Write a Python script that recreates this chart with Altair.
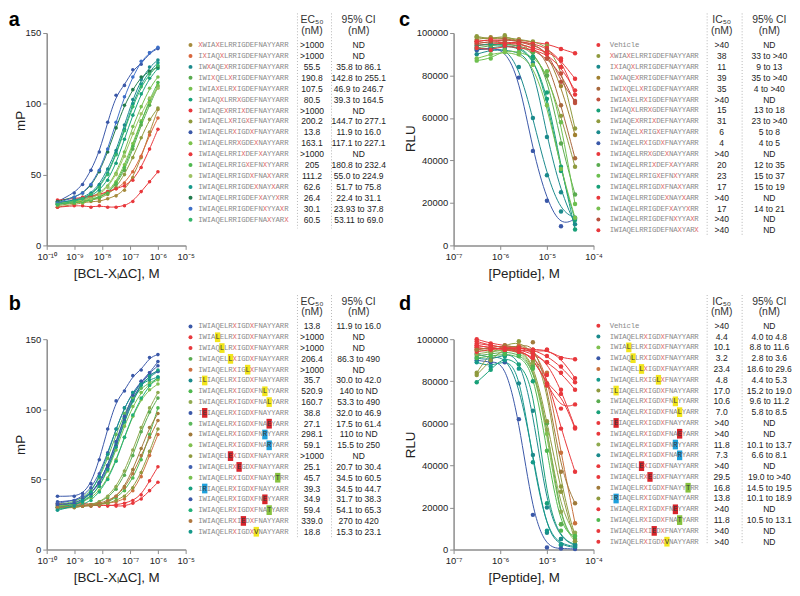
import altair as alt
import pandas as pd

FONT = "Liberation Sans"
MONO = "Liberation Mono"

# ---------------- concentrations ----------------
CONC_AB = [2.44e-10, 9.77e-10, 1.95e-9, 3.91e-9, 7.81e-9, 1.56e-8, 3.13e-8,
           6.25e-8, 1.25e-7, 2.5e-7, 5e-7, 1e-6]
CONC_CD = [3.13e-7, 6.25e-7, 1.25e-6, 2.5e-6, 5e-6, 1e-5, 2e-5, 4e-5]

# ---------------- panel a ----------------
A_SEQS = ["XWIAXELRRIGDEFNAYYARR", "IXIAQXLRRIGDEFNAYYARR", "IWXAQEXRRIGDEFNAYYARR",
          "IWIXQELXRIGDEFNAYYARR", "IWIAXELRXIGDEFNAYYARR", "IWIAQXLRRXGDEFNAYYARR",
          "IWIAQEXRRIXDEFNAYYARR", "IWIAQELXRIGXEFNAYYARR", "IWIAQELRXIGDXFNAYYARR",
          "IWIAQELRRXGDEXNAYYARR", "IWIAQELRRIXDEFXAYYARR", "IWIAQELRRIGXEFNXYYARR",
          "IWIAQELRRIGDXFNAXYARR", "IWIAQELRRIGDEXNAYXARR", "IWIAQELRRIGDEFXAYYXRR",
          "IWIAQELRRIGDEFNXYYAXR", "IWIAQELRRIGDEFNAXYARX"]
A_EC50 = [">1000", ">1000", "55.5", "190.8", "107.5", "80.5", ">1000", "200.2", "13.8",
          "163.1", ">1000", "205", "111.2", "62.6", "26.4", "30.1", "60.5"]
A_CI = ["ND", "ND", "35.8 to 86.1", "142.8 to 255.1", "46.9 to 246.7", "39.3 to 164.5", "ND",
        "144.7 to 277.1", "11.9 to 16.0", "117.1 to 227.1", "ND", "180.8 to  232.4",
        "55.0 to 224.9", "51.7 to 75.8", "22.4 to 31.1", "23.93 to 37.8", "53.11 to  69.0"]
A_COLORS = ["#a68b3c", "#d9673c", "#1b8a8c", "#5aab4f", "#77c04f", "#16a07a", "#e8383c",
            "#8f9a3e", "#3a58a8", "#7cc24c", "#e8383c", "#4fb84f", "#9dc262", "#15998a",
            "#207a4c", "#3d6fc8", "#35b56a"]
A_MP = [
    [27, 29, 30, 31, 31, 33, 35, 39, 48, 62, 80, 96],
    [30, 31, 33, 34, 36, 37, 40, 44, 52, 63, 78, 90],
    [30, 32, 34, 37, 43, 54, 67, 85, 103, 117, 126, 131],
    [29, 31, 31, 33, 34, 37, 43, 53, 68, 85, 99, 112],
    [31, 30, 32, 34, 37, 42, 51, 66, 84, 98, 111, 119],
    [30, 31, 33, 35, 39, 46, 58, 75, 92, 107, 118, 125],
    [27, 28, 28, 27, 28, 27, 27, 28, 31, 38, 45, 52],
    [28, 30, 31, 32, 33, 36, 41, 50, 62, 76, 89, 97],
    [31, 37, 43, 53, 66, 87, 106, 113, 124, 128, 136, 139],
    [30, 31, 30, 32, 34, 38, 45, 57, 72, 88, 101, 113],
    [32, 33, 34, 35, 36, 38, 40, 42, 46, 55, 68, 82],
    [29, 30, 31, 32, 34, 37, 44, 55, 70, 87, 103, 115],
    [30, 31, 32, 33, 36, 41, 50, 63, 79, 93, 104, 111],
    [30, 32, 33, 36, 42, 51, 65, 82, 100, 114, 123, 129],
    [31, 34, 37, 42, 52, 66, 83, 99, 110, 119, 123, 126],
    [30, 34, 37, 43, 53, 68, 87, 105, 119, 130, 136, 140],
    [29, 31, 33, 36, 41, 50, 64, 81, 98, 112, 121, 127],
]

# ---------------- panel b ----------------
B_SEQS = ["IWIAQELRXIGDXFNAYYARR", "IWIALELRXIGDXFNAYYARR", "IWIAQLLRXIGDXFNAYYARR",
          "IWIAQELLXIGDXFNAYYARR", "IWIAQELRXIGLXFNAYYARR", "ILIAQELRXIGDXFNAYYARR",
          "IWIAQELRXIGDXFNLYYARR", "IWIAQELRXIGDXFNALYARR", "IEIAQELRXIGDXFNAYYARR",
          "IWIAQELRXIGDXFNAEYARR", "IWIAQELRXIGDXFNRYYARR", "IWIAQELRXIGDXFNARYARR",
          "IWIAQELEXIGDXFNAYYARR", "IWIAQELRXEGDXFNAYYARR", "IWIAQELRXIGDXFNAYYTRR",
          "IRIAQELRXIGDXFNAYYARR", "IWIAQELRXIGDXFNEYYARR", "IWIAQELRXIGDXFNATYARR",
          "IWIAQELRXIEDXFNAYYARR", "IWIAQELRXIGDXVNAYYARR"]
B_HL = [None, (4, "y"), (5, "y"), (7, "y"), (11, "y"), (1, "y"), (15, "y"), (16, "y"),
        (1, "r"), (16, "r"), (15, "b"), (16, "b"), (7, "r"), (9, "r"), (18, "g"), (1, "b"),
        (15, "r"), (16, "g"), (10, "r"), (13, "y")]
B_EC50 = ["13.8", ">1000", ">1000", "206.4", ">1000", "35.7", "520.9", "160.7", "38.8", "27.1",
          "298.1", "59.1", ">1000", "25.1", "45.7", "39.3", "34.9", "59.4", "339.0", "18.8"]
B_CI = ["11.9 to 16.0", "ND", "ND", "86.3 to 490", "ND", "30.0 to 42.0", "140 to ND",
        "53.3 to 490", "32.0 to 46.9", "17.5 to 61.4", "110 to ND", "15.5 to 250", "ND",
        "20.7 to 30.4", "34.5 to 60.5", "34.5 to 44.7", "31.7 to 38.3", "54.1 to 65.3",
        "270 to 420", "15.3 to 23.1"]
B_COLORS = ["#3a58a8", "#e8383c", "#e8383c", "#5aab4f", "#cc7040", "#1b8a8c", "#4fb84f",
            "#8faa50", "#3a58a8", "#5cb85c", "#a07a3a", "#80c050", "#8f9a3e", "#4060b0",
            "#78c050", "#18a080", "#3a58a8", "#20b078", "#b07840", "#15998a"]
B_MP = [
    [38, 38, 40, 47, 64, 86, 106, 113, 124, 128, 137, 139],
    [31, 31, 32, 31, 32, 31, 32, 33, 35, 39, 49, 59],
    [32, 32, 33, 32, 31, 32, 31, 31, 33, 36, 42, 48],
    [30, 31, 31, 32, 34, 37, 43, 53, 67, 84, 98, 108],
    [33, 32, 33, 32, 33, 33, 34, 36, 42, 52, 67, 82],
    [31, 33, 35, 40, 48, 60, 76, 94, 108, 118, 123, 127],
    [30, 30, 31, 32, 32, 34, 37, 42, 51, 64, 82, 101],
    [29, 30, 31, 32, 34, 38, 45, 56, 71, 87, 101, 112],
    [34, 35, 37, 40, 47, 58, 74, 92, 107, 118, 126, 131],
    [32, 34, 37, 42, 51, 65, 82, 97, 108, 115, 119, 122],
    [30, 30, 31, 31, 32, 34, 38, 45, 57, 72, 87, 97],
    [31, 32, 34, 37, 42, 51, 64, 80, 95, 107, 114, 118],
    [30, 31, 31, 32, 32, 33, 35, 38, 44, 55, 70, 86],
    [33, 35, 38, 44, 54, 69, 86, 101, 112, 120, 125, 127],
    [31, 32, 35, 38, 45, 56, 71, 88, 102, 112, 118, 121],
    [30, 32, 34, 38, 45, 57, 73, 91, 106, 117, 124, 128],
    [32, 33, 36, 40, 48, 60, 77, 95, 110, 120, 126, 134],
    [29, 31, 32, 35, 41, 50, 63, 80, 96, 108, 117, 123],
    [30, 31, 31, 32, 33, 35, 38, 44, 54, 67, 80, 92],
    [28, 31, 35, 41, 52, 68, 86, 101, 112, 118, 121, 123],
]

# ---------------- panel c ----------------
C_SEQS = ["Vehicle"] + A_SEQS
C_IC50 = [">40", "38", "11", "39", "35", ">40", "15", "31", "6", "4", ">40", "20", "23", "17",
          ">40", "17", ">40", ">40"]
C_CI = ["ND", "33 to >40", "9 to 13", "35 to >40", "4 to >40", "ND", "13 to 18", "23 to >40",
        "5 to 8", "4 to 5", "ND", "12 to 35", "15 to 37", "15 to 19", "ND", "14 to 21", "ND", "ND"]
C_COLORS = ["#e8383c", "#8f9a3e", "#1b8a8c", "#a08030", "#a8683c", "#c0503c", "#18a078",
            "#8f9a3e", "#1b8a8c", "#3a58a8", "#e8383c", "#5aab4f", "#6cbf4f", "#18a078",
            "#e8383c", "#78c050", "#b8503c", "#e8383c"]
C_RLU = [
    [96000, 97000, 96500, 97000, 95500, 95000, 92500, 90500],
    [98500, 97000, 98000, 97000, 96000, 94000, 84000, 55000],
    [90000, 92000, 92000, 91000, 86000, 51000, 25000, 10000],
    [97000, 98000, 97500, 96000, 95000, 91000, 75000, 52000],
    [96000, 95000, 96000, 95000, 93000, 88000, 66000, 41000],
    [95000, 94000, 95000, 94000, 92000, 88000, 81000, 67000],
    [92000, 93000, 94000, 93000, 88000, 72000, 37000, 7500],
    [98000, 97000, 99000, 96000, 91000, 80000, 61000, 37000],
    [93000, 92000, 93000, 84000, 60000, 33000, 16000, 13000],
    [92000, 93000, 92000, 79000, 44500, 21000, 9000, 12500],
    [94000, 95000, 95000, 96000, 95000, 93000, 87000, 78500],
    [93000, 94000, 95000, 94000, 91000, 80000, 48000, 24000],
    [87000, 88000, 92000, 91000, 89000, 82000, 58000, 19500],
    [94000, 95000, 94000, 93500, 89000, 69000, 35000, 12000],
    [93000, 92000, 94000, 93000, 92000, 90000, 84000, 73000],
    [88000, 90000, 91000, 90000, 85000, 66000, 36000, 13000],
    [95000, 96000, 97000, 96000, 94000, 92000, 77000, 68000],
    [96000, 97000, 95000, 95000, 93000, 91000, 88000, 71000],
]

# ---------------- panel d ----------------
D_SEQS = ["Vehicle"] + B_SEQS
D_HL = [None] + B_HL
D_IC50 = [">40", "4.4", "10.1", "3.2", "23.4", "4.8", "17.0", "10.6", "7.0", ">40", ">40",
          "11.8", "7.3", ">40", "29.5", "16.8", "13.8", ">40", "11.8", ">40", ">40"]
D_CI = ["ND", "4.0 to 4.8", "8.8 to 11.6", "2.8 to 3.6", "18.6 to 29.6", "4.4 to 5.3",
        "15.2 to 19.0", "9.6 to 11.2", "5.8 to 8.5", "ND", "ND", "10.1 to 13.7", "6.6 to 8.1",
        "ND", "19.0 to >40", "14.5 to 19.5", "10.1 to 18.9", "ND", "10.5 to 13.1", "ND", "ND"]
D_COLORS = ["#e8383c", "#1b8a8c", "#80c050", "#3a58a8", "#c8703c", "#15998a", "#8f9a3e",
            "#5aab4f", "#18a078", "#e8383c", "#e8383c", "#8faa50", "#1b8a8c", "#e8383c",
            "#e8383c", "#a07a3a", "#8f9a3e", "#e8383c", "#4fb84f", "#e8383c", "#e8383c"]
D_RLU = [
    [98000, 97000, 96000, 96000, 95000, 95000, 91000, 90500],
    [93000, 91000, 92000, 79000, 45000, 8000, 2000, 1000],
    [95000, 94000, 95000, 94000, 88000, 55000, 12000, 4000],
    [90000, 89000, 89000, 62000, 16500, 1000, 500, 300],
    [96000, 95000, 96000, 97000, 95000, 84000, 46000, 12500],
    [89000, 87000, 90000, 86000, 41500, 9000, 2500, 1500],
    [84000, 94000, 97000, 99000, 94000, 78000, 30000, 6500],
    [92000, 93000, 94000, 93000, 87000, 60000, 12000, 5000],
    [79500, 85500, 92000, 88000, 80000, 22000, 5000, 2500],
    [96000, 95000, 96000, 95000, 93000, 89000, 84000, 76000],
    [100000, 98000, 97000, 96000, 94000, 89000, 76000, 58000],
    [93000, 94000, 95000, 95000, 89000, 57000, 18000, 8000],
    [91000, 90000, 93000, 92000, 66000, 20000, 5000, 2000],
    [95000, 96000, 95000, 95000, 94000, 95000, 91000, 81500],
    [94000, 95000, 96000, 94000, 92000, 83000, 57500, 37000],
    [95000, 96000, 97000, 96000, 98500, 79000, 37000, 22000],
    [83000, 90000, 96000, 95000, 90000, 61000, 27500, 4000],
    [97000, 96000, 95000, 96000, 95000, 92000, 87000, 79500],
    [91000, 92000, 93000, 92000, 86000, 47000, 9000, 6500],
    [99000, 97000, 96000, 95000, 91000, 79000, 67000, 69000],
    [97000, 96000, 95000, 94000, 92000, 78000, 74000, 57500],
]

HL_COLORS = {"y": "#f2e51c", "r": "#d8232a", "b": "#1ea0dc", "g": "#86c23e"}
SEQ_GRAY = "#8a8a8a"
SEQ_RED = "#e06a6a"

LBL = ("datum.value < 3e-10 ? '10\u207b\u00b9\u2070' : datum.value < 3e-9 ? '10\u207b\u2079' : "
       "datum.value < 3e-8 ? '10\u207b\u2078' : datum.value < 3e-7 ? '10\u207b\u2077' : "
       "datum.value < 3e-6 ? '10\u207b\u2076' : datum.value < 3e-5 ? '10\u207b\u2075' : '10\u207b\u2074'")

AXIS = dict(domainColor="#8c8c8c", domainWidth=1.5, tickColor="#8c8c8c", tickWidth=1,
            tickSize=4, labelFont=FONT, labelFontSize=9.5, labelColor="#222",
            titleFont=FONT, titleFontSize=13.5, titleFontWeight="normal", titleColor="#222",
            grid=False, labelPadding=2, labelOverlap=False)


def plot_panel(conc, series, colors, xdom, xticks, ydom, yticks, yfmt, w, h,
               xtitle, ytitle, ytx, yty, letter, ldx, loff, ldy, psize):
    recs = []
    for s, (vals, col) in enumerate(zip(series, colors)):
        for c, v in zip(conc, vals):
            recs.append({"s": s, "c": c, "v": v, "col": col})
    df = pd.DataFrame(recs)
    xax = alt.Axis(values=xticks, labelExpr=LBL, title=xtitle, labelFlush=False,
                   titlePadding=6, **AXIS)
    yax = alt.Axis(values=yticks, format=yfmt, title=ytitle, titleAngle=270, titleX=ytx,
                   titleY=yty, titleAlign="center", titleBaseline="middle", **AXIS)
    x = alt.X("c:Q", scale=alt.Scale(type="log", domain=xdom, nice=False), axis=xax)
    y = alt.Y("v:Q", scale=alt.Scale(domain=ydom, nice=False), axis=yax)
    col = alt.Color("col:N", scale=None)
    base = alt.Chart(df)
    lines = base.mark_line(strokeWidth=1, interpolate="basis").encode(
        x=x, y=y, color=col, detail="s:N")
    pts = base.mark_circle(size=psize, opacity=1).encode(x=x, y=y, color=col)
    return alt.layer(lines, pts).properties(
        width=w, height=h,
        title=alt.TitleParams(letter, anchor="start", frame="group", dx=ldx, dy=ldy,
                              offset=loff, fontSize=20, fontWeight="bold", font=FONT,
                              color="#000"))


def table_panel(seqs, hls, vals, cis, colors, head, xdom, ydom, w, h, pos):
    chars, boxes, dots, nums = [], [], [], []
    for r, seq in enumerate(seqs):
        hl = hls[r] if hls else None
        for i, ch in enumerate(seq):
            if hl is not None and i == hl[0]:
                c = "#3a3a3a"
                boxes.append({"x": i - 0.62, "x2": i + 0.62, "y": r - 0.45, "y2": r + 0.45,
                              "col": HL_COLORS[hl[1]]})
            elif ch == "X":
                c = SEQ_RED
            else:
                c = SEQ_GRAY
            chars.append({"x": i, "y": r, "t": ch, "tc": c})
        dots.append({"x": pos["dot"], "y": r, "col": colors[r]})
        nums.append({"x": pos["val"], "y": r, "t": vals[r]})
        nums.append({"x": pos["ci"], "y": r, "t": cis[r]})
    heads = [{"x": pos["val"], "y": pos["h1"], "t": head},
             {"x": pos["val"], "y": pos["h2"], "t": "(nM)"},
             {"x": pos["ci"], "y": pos["h1"], "t": "95% CI"},
             {"x": pos["ci"], "y": pos["h2"], "t": "(nM)"}]
    seps = [{"x": pos["s1"], "y": pos["top"], "y2": pos["bot"]},
            {"x": pos["s2"], "y": pos["top"], "y2": pos["bot"]}]

    X = alt.X("x:Q", scale=alt.Scale(domain=xdom, nice=False, zero=False), axis=None)
    Y = alt.Y("y:Q", scale=alt.Scale(domain=ydom, nice=False, zero=False, reverse=True),
              axis=None)

    l_sep = alt.Chart(pd.DataFrame(seps)).mark_rule(
        color="#b5b5b5", strokeWidth=1, strokeDash=[1, 2]).encode(x=X, y=Y, y2="y2:Q")
    layers = [l_sep]
    if boxes:
        layers.append(alt.Chart(pd.DataFrame(boxes)).mark_rect().encode(
            x=X, x2="x2:Q", y=Y, y2="y2:Q", fill=alt.Fill("col:N", scale=None)))
    layers.append(alt.Chart(pd.DataFrame(chars)).mark_text(
        font=MONO, fontSize=7.4, align="center", baseline="middle").encode(
        x=X, y=Y, text="t:N", fill=alt.Fill("tc:N", scale=None)))
    layers.append(alt.Chart(pd.DataFrame(dots)).mark_circle(size=16, opacity=1).encode(
        x=X, y=Y, fill=alt.Fill("col:N", scale=None)))
    layers.append(alt.Chart(pd.DataFrame(nums)).mark_text(
        font=FONT, fontSize=8.6, align="center", baseline="middle", color="#222").encode(
        x=X, y=Y, text="t:N"))
    layers.append(alt.Chart(pd.DataFrame(heads)).mark_text(
        font=FONT, fontSize=10.5, align="center", baseline="middle", color="#333").encode(
        x=X, y=Y, text="t:N"))
    return alt.layer(*layers).properties(width=w, height=h)


W_PA, W_TA, W_PC, W_TC = 140.1, 268.5, 141.1, 195.0
H1, H2 = 214.0, 212.0

POS_A = dict(dot=-2.31, val=25.97, ci=36.83, s1=22.58, s2=30.5, h1=-2.27, h2=-1.28,
             top=-2.9, bot=16.8)
POS_B = dict(dot=-2.31, val=25.97, ci=36.83, s1=22.58, s2=30.5, h1=-2.26, h2=-1.36,
             top=-2.9, bot=19.5)
POS_C = dict(dot=-3.19, val=25.94, ci=37.18, s1=22.5, s2=30.76, h1=-2.26, h2=-1.27,
             top=-2.9, bot=17.5)
POS_D = dict(dot=-3.19, val=25.94, ci=37.18, s1=22.5, s2=30.76, h1=-2.2, h2=-1.3,
             top=-2.85, bot=20.2)
XD_AB = [-3.21, 58.8]
XD_CD = [-4.1, 41.6]

EC = "EC\u2085\u2080"
IC = "IC\u2085\u2080"
XT_AB = "[BCL-X\u2097\u0394C], M"

pa = plot_panel(CONC_AB, A_MP, A_COLORS, [1e-10, 1e-5], [1e-10, 1e-9, 1e-8, 1e-7, 1e-6, 1e-5],
                [0, 150], [0, 50, 100, 150], "d", W_PA, H1, XT_AB, "mP", -26.5, 88,
                "a", -38.2, 4, 6, 13)
pb = plot_panel(CONC_AB, B_MP, B_COLORS, [1e-10, 1e-5], [1e-10, 1e-9, 1e-8, 1e-7, 1e-6, 1e-5],
                [0, 150], [0, 50, 100, 150], "d", W_PA, H2, XT_AB, "mP", -26.5, 106,
                "b", -38.2, 22, 2, 13)
pc = plot_panel(CONC_CD, C_RLU, C_COLORS, [1e-7, 1e-4], [1e-7, 1e-6, 1e-5, 1e-4],
                [0, 100000], [0, 20000, 40000, 60000, 80000, 100000], "d", W_PC, H1,
                "[Peptide], M", "RLU", -43.4, 106, "c", -54.9, 4, 6, 20)
pdd = plot_panel(CONC_CD, D_RLU, D_COLORS, [1e-7, 1e-4], [1e-7, 1e-6, 1e-5, 1e-4],
                 [0, 100000], [0, 20000, 40000, 60000, 80000, 100000], "d", W_PC, H2,
                 "[Peptide], M", "RLU", -43.4, 106, "d", -54.9, 22, 2, 20)

ta = table_panel(A_SEQS, None, A_EC50, A_CI, A_COLORS, EC, XD_AB, [-1.103, 18.36], W_TA, H1, POS_A)
tb = table_panel(B_SEQS, B_HL, B_EC50, B_CI, B_COLORS, EC, XD_AB, [1.178, 20.65], W_TA, H2, POS_B)
tc = table_panel(C_SEQS, None, C_IC50, C_CI, C_COLORS, IC, XD_CD, [-1.104, 18.38], W_TC, H1, POS_C)
td = table_panel(D_SEQS, D_HL, D_IC50, D_CI, D_COLORS, IC, XD_CD, [1.24, 20.73], W_TC, H2, POS_D)

chart = alt.concat(
    pa, ta, pc, tc, pb, tb, pdd, td,
    columns=4, spacing={"row": 94.5, "column": 0}, bounds="flush",
).properties(padding=0, background="white").configure_view(stroke=None)

chart.save("out.html", embed_options={"renderer": "svg", "actions": False})
